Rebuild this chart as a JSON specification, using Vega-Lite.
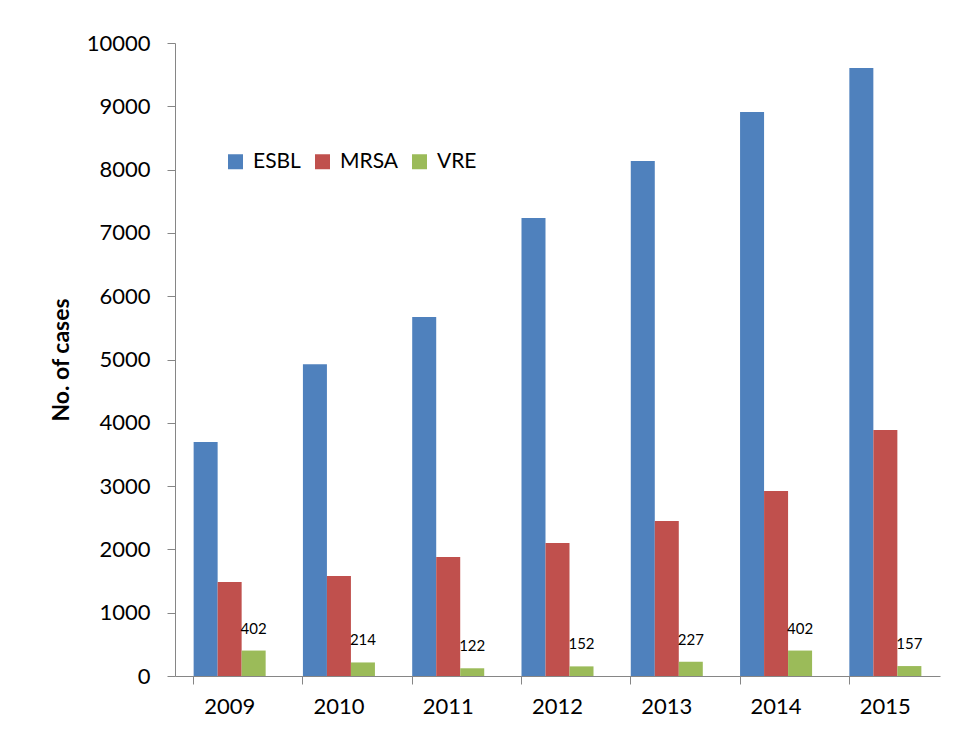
{
  "$schema": "https://vega.github.io/schema/vega-lite/v6.json",
  "width": 765,
  "height": 633,
  "autosize": {"type": "none"},
  "padding": {"left": 175, "top": 43, "right": 16, "bottom": 60},
  "background": "white",
  "config": {
    "font": "Lato",
    "view": {"stroke": null},
    "axis": {"domainColor": "#868686", "tickColor": "#868686", "labelColor": "black", "titleColor": "black", "grid": false, "labelFont": "Lato", "titleFont": "Lato"}
  },
  "data": {
    "values": [
      {"year": "2009", "type": "ESBL", "cases": 3697},
      {"year": "2009", "type": "MRSA", "cases": 1485},
      {"year": "2009", "type": "VRE", "cases": 402},
      {"year": "2010", "type": "ESBL", "cases": 4925},
      {"year": "2010", "type": "MRSA", "cases": 1580},
      {"year": "2010", "type": "VRE", "cases": 214},
      {"year": "2011", "type": "ESBL", "cases": 5670},
      {"year": "2011", "type": "MRSA", "cases": 1880},
      {"year": "2011", "type": "VRE", "cases": 122},
      {"year": "2012", "type": "ESBL", "cases": 7235},
      {"year": "2012", "type": "MRSA", "cases": 2101},
      {"year": "2012", "type": "VRE", "cases": 152},
      {"year": "2013", "type": "ESBL", "cases": 8136},
      {"year": "2013", "type": "MRSA", "cases": 2449},
      {"year": "2013", "type": "VRE", "cases": 227},
      {"year": "2014", "type": "ESBL", "cases": 8910},
      {"year": "2014", "type": "MRSA", "cases": 2922},
      {"year": "2014", "type": "VRE", "cases": 402},
      {"year": "2015", "type": "ESBL", "cases": 9605},
      {"year": "2015", "type": "MRSA", "cases": 3886},
      {"year": "2015", "type": "VRE", "cases": 157}
    ]
  },
  "encoding": {
    "x": {
      "field": "year", "type": "nominal",
      "scale": {"paddingInner": 0.341, "paddingOuter": 0.1705},
      "axis": {"title": null, "labelAngle": 0, "labelFontSize": 22, "tickSize": 8, "labelPadding": 12, "bandPosition": 0}
    },
    "xOffset": {"field": "type", "type": "nominal", "scale": {"paddingInner": 0, "paddingOuter": 0}},
    "y": {
      "field": "cases", "type": "quantitative",
      "scale": {"domain": [0, 10000]},
      "axis": {"title": "No. of cases", "titleFontSize": 23, "titleFontWeight": "bold", "titlePadding": 13, "labelFontSize": 22, "tickSize": 8, "labelPadding": 17, "format": "d", "values": [0,1000,2000,3000,4000,5000,6000,7000,8000,9000,10000]}
    }
  },
  "layer": [
    {
      "mark": {"type": "bar"},
      "encoding": {
        "color": {
          "field": "type", "type": "nominal",
          "scale": {"domain": ["ESBL", "MRSA", "VRE"], "range": ["#4F81BD", "#C0504D", "#9BBB59"]},
          "legend": {"title": null, "orient": "none", "legendX": 50, "legendY": 108, "direction": "horizontal", "symbolType": "square", "symbolSize": 225, "symbolStrokeWidth": 0, "labelFontSize": 21, "labelFont": "Lato", "labelOffset": 7, "columnPadding": 11}
        }
      }
    },
    {
      "transform": [{"filter": "datum.type == 'VRE'"}],
      "mark": {"type": "text", "baseline": "alphabetic", "dy": -17, "fontSize": 15, "color": "black"},
      "encoding": {"text": {"field": "cases", "type": "quantitative"}}
    }
  ]
}
